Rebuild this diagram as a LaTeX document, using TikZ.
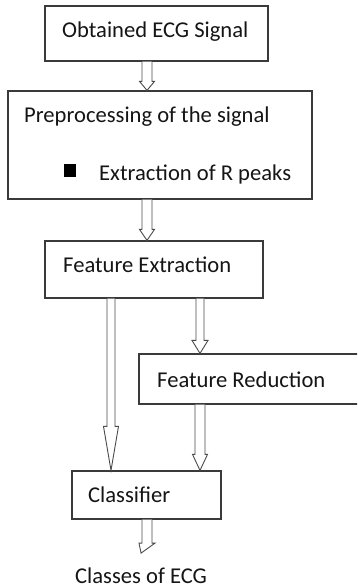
\documentclass[tikz,border=0pt]{standalone}
\usepackage{fontspec}
\setmainfont{Carlito}
\usetikzlibrary{calc}
\definecolor{boxline}{HTML}{3A3A3A}
\definecolor{arrline}{HTML}{4A4A4A}
\definecolor{txt}{HTML}{151515}
\newcommand{\hollowarrow}[5]{%
  \draw[arrowline] let \p1=(#1), \p2=(#2) in
    (\x1-#3pt,\y1) -- (\x1-#3pt,\y2+#5pt) -- (\x1-#4pt,\y2+#5pt) -- (\x2,\y2)
    -- (\x1+#4pt,\y2+#5pt) -- (\x1+#3pt,\y2+#5pt) -- (\x1+#3pt,\y1);}
\begin{document}
\begin{tikzpicture}[x=1pt,y=-1pt,
  boxstyle/.style={draw=boxline, line width=1.2pt, fill=white, inner sep=0pt},
  label/.style={anchor=base west, inner sep=0pt, text=txt, font=\fontsize{22.6}{26}\selectfont},
  arrowline/.style={draw=arrline, line width=0.9pt, fill=white, line join=miter}]
\useasboundingbox (0,0) rectangle (357,588);
\clip (0,0) rectangle (357,588);
\fill[white] (0,0) rectangle (357,588);

% boxes
\node[boxstyle, minimum width=223pt, minimum height=55pt] (b1) at (156.5,33.5) {};
\node[boxstyle, minimum width=304pt, minimum height=108pt] (b2) at (160,145) {};
\node[boxstyle, minimum width=218pt, minimum height=57pt] (b3) at (154,269.5) {};
\node[boxstyle, minimum width=226pt, minimum height=50pt] (b4) at (252,379) {};
\node[boxstyle, minimum width=149pt, minimum height=48pt] (b5) at (146.5,495) {};

% texts
\node[label] (t1) at (62,38) {Obtained ECG Signal};
\node[label] (t2) at (24,123) {Preprocessing of the signal};
\node[fill=black, inner sep=0pt, minimum width=12pt, minimum height=13pt] (bul) at (70,170.5) {};
\node[label] (t2b) at (99,180) {Extraction of R peaks};
\node[label] (t3) at (63,272) {Feature Extraction};
\node[label] (t4) at (157,387) {Feature Reduction};
\node[label] (t5) at (88,502.5) {Classifier};
\node[label] (t6) at (75,583) {Classes of ECG};

% connector anchor points
\coordinate (a1s) at (b1.south -| 147,0);
\coordinate (a1e) at (b2.north -| 147,0);
\coordinate (a2s) at (b2.south -| 147,0);
\coordinate (a2e) at (b3.north -| 147,0);
\coordinate (a3s) at (b3.south -| 111,0);
\coordinate (a3e) at (b5.north -| 111,0);
\coordinate (a4s) at (b3.south -| 200,0);
\coordinate (a4e) at (b4.north -| 200,0);
\coordinate (a5s) at (b4.south -| 200,0);
\coordinate (a5e) at (b5.north -| 200,0);
\coordinate (a6s) at (b5.south -| 147,0);
\coordinate (a6e) at ($(t6.north)+(0,-14)$);

% hollow double-line arrows
\hollowarrow{a1s}{a1e}{5}{7.5}{9}
\hollowarrow{a2s}{a2e}{5}{7.5}{11}
\hollowarrow{a3s}{a3e}{4}{7.5}{44}
\hollowarrow{a4s}{a4e}{4}{8}{13}
\hollowarrow{a5s}{a5e}{5}{7.5}{16}
\hollowarrow{a6s}{a6e}{5}{8}{10}
\end{tikzpicture}
\end{document}
